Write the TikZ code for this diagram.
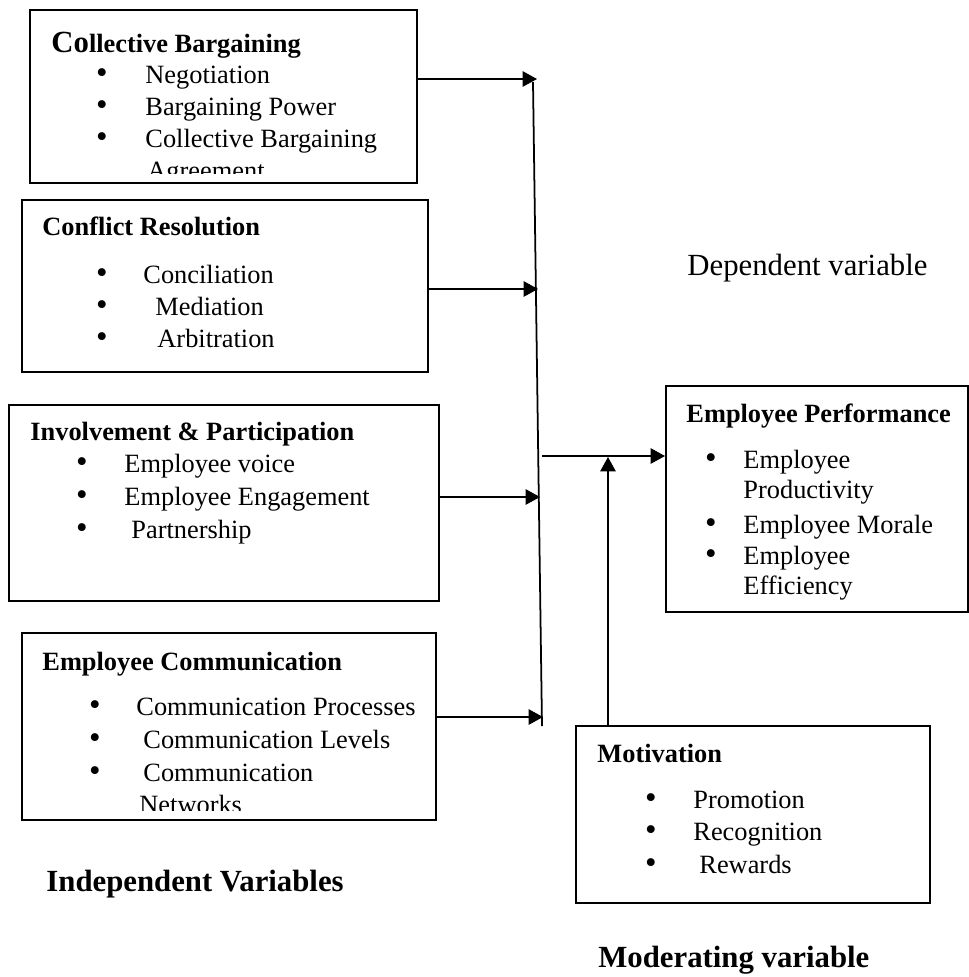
\documentclass[tikz,border=0pt]{standalone}
\usepackage{fontspec}
\setmainfont{Liberation Serif}
\usetikzlibrary{arrows.meta, fit}

\begin{document}
\begin{tikzpicture}[
    x=0.455pt, y=-0.455pt,
    box/.style={rectangle, draw=black, line width=0.9pt, inner sep=0pt},
    txt/.style={anchor=base west, inner sep=0pt, font=\fontsize{12}{14}\selectfont},
    ttl/.style={txt, font=\fontsize{12}{14}\selectfont\bfseries},
    dot/.style={anchor=base, inner sep=0pt, font=\fontsize{15}{14}\selectfont},
    big/.style={txt, font=\fontsize{14}{16}\selectfont},
    arr/.style={-{Triangle[length=6.5pt, width=7pt]}, line width=0.5pt}
]
    \useasboundingbox (0,0) rectangle (969,977);

    % Independent variables
    \node[box, fit={(30,10) (417,183)}] (cb) {};
    \node[ttl] (cbt) at (51,52) {{\fontsize{14}{16}\selectfont Co}llective Bargaining};
    \node[dot] (cbd1) at (102,83) {\textbullet};
    \node[txt] (neg) at (145,83) {Negotiation};
    \node[dot] (cbd2) at (102,115) {\textbullet};
    \node[txt] (bpow) at (145,115) {Bargaining Power};
    \node[dot] (cbd3) at (102,147) {\textbullet};
    \node[txt] (cba) at (145,147) {Collective Bargaining};
    \begin{scope}
        \clip (32,150) rectangle (415,173);
        \node[txt] (agr) at (147,179) {Agreement};
    \end{scope}

    \node[box, fit={(22,200) (428,372)}] (cr) {};
    \node[ttl] (crt) at (42,235) {Conflict Resolution};
    \node[dot] (crd1) at (102,283) {\textbullet};
    \node[txt] (conc) at (143,283) {Conciliation};
    \node[dot] (crd2) at (102,315) {\textbullet};
    \node[txt] (med) at (155,315) {Mediation};
    \node[dot] (crd3) at (102,347) {\textbullet};
    \node[txt] (arb) at (157,347) {Arbitration};

    \node[box, fit={(9,405) (439,601)}] (ip) {};
    \node[ttl] (ipt) at (30,440) {Involvement \& Participation};
    \node[dot] (ipd1) at (82,472) {\textbullet};
    \node[txt] (voice) at (124,472) {Employee voice};
    \node[dot] (ipd2) at (82,505) {\textbullet};
    \node[txt] (eng) at (124,505) {Employee Engagement};
    \node[dot] (ipd3) at (82,538) {\textbullet};
    \node[txt] (part) at (131,538) {Partnership};

    \node[box, fit={(22,633) (436,820)}] (ec) {};
    \node[ttl] (ect) at (42,670) {Employee Communication};
    \node[dot] (ecd1) at (95,715) {\textbullet};
    \node[txt] (proc) at (136,715) {Communication Processes};
    \node[dot] (ecd2) at (95,748) {\textbullet};
    \node[txt] (lev) at (143,748) {Communication Levels};
    \node[dot] (ecd3) at (95,781) {\textbullet};
    \node[txt] (comm) at (143,781) {Communication};
    \begin{scope}
        \clip (24,790) rectangle (434,810);
        \node[txt] (netw) at (139,813) {Networks};
    \end{scope}

    \node[big, font=\fontsize{14}{16}\selectfont\bfseries] (indep) at (46,891) {Independent Variables};

    % Dependent variable
    \node[big] (dep) at (687,275) {Dependent variable};
    \node[box, fit={(666,386) (968,612)}] (ep) {};
    \node[ttl] (ept) at (686,422) {Employee Performance};
    \node[dot] (epd1) at (711,468) {\textbullet};
    \node[txt] (prod1) at (743,468) {Employee};
    \node[txt] (prod2) at (743,498) {Productivity};
    \node[dot] (epd2) at (711,533) {\textbullet};
    \node[txt] (mor) at (743,533) {Employee Morale};
    \node[dot] (epd3) at (711,564) {\textbullet};
    \node[txt] (eff1) at (743,564) {Employee};
    \node[txt] (eff2) at (743,594) {Efficiency};

    % Moderating variable
    \node[box, fit={(576,726) (930,903)}] (mot) {};
    \node[ttl] (mott) at (597,762) {Motivation};
    \node[dot] (motd1) at (651,808) {\textbullet};
    \node[txt] (prom) at (693,808) {Promotion};
    \node[dot] (motd2) at (651,840) {\textbullet};
    \node[txt] (rec) at (693,840) {Recognition};
    \node[dot] (motd3) at (651,873) {\textbullet};
    \node[txt] (rew) at (699,873) {Rewards};
    \node[big, font=\fontsize{14}{16}\selectfont\bfseries] (moder) at (598,967) {Moderating variable};

    % Arrows
    \coordinate (sTop) at (533,82);
    \coordinate (sBot) at (542,726);
    \coordinate (t1) at (537,79);
    \coordinate (t2) at (538,289);
    \coordinate (t3) at (540,497);
    \coordinate (t4) at (543,717);
    \coordinate (o) at (542,456);
    \coordinate (m) at (608,457);
    \draw[line width=0.8pt] (sTop) -- (sBot);
    \draw[arr] (cb.east |- t1) -- (t1);
    \draw[arr] (cr.east |- t2) -- (t2);
    \draw[arr] (ip.east |- t3) -- (t3);
    \draw[arr] (ec.east |- t4) -- (t4);
    \draw[arr] (o) -- (ep.west |- o);
    \draw[arr] (m |- mot.north) -- (m);
\end{tikzpicture}
\end{document}
